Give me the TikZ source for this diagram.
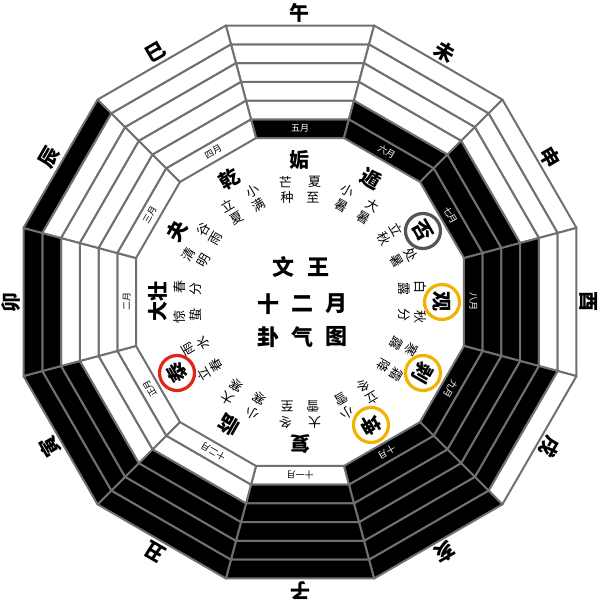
\documentclass[tikz,border=0pt]{standalone}
\usepackage{fontspec}
\newfontfamily\cjk{Noto Sans CJK SC}
\definecolor{lg}{HTML}{707070}
\definecolor{gold}{HTML}{F2B200}
\definecolor{redc}{HTML}{E3241B}
\definecolor{grayc}{HTML}{555555}
\tikzset{
  band/.style={draw=lg, line width=2pt, line join=round},
  branch/.style={font=\cjk\bfseries\fontsize{20}{20}\selectfont, inner sep=0pt},
  gua/.style={font=\cjk\bfseries\fontsize{20}{20}\selectfont, inner sep=0pt},
  term/.style={font=\cjk\fontsize{13}{13}\selectfont, inner sep=0pt},
  month/.style={font=\cjk\fontsize{9}{9}\selectfont, inner sep=0pt},
  title/.style={font=\cjk\bfseries\fontsize{22}{22}\selectfont, inner sep=0pt},
  ring/.style={line width=3.2pt}
}
\begin{document}
\begin{tikzpicture}[x=1pt,y=1pt]
\useasboundingbox (-300,-303) rectangle (300,302);
\fill[white] (-300,-303) rectangle (300,302);
% hexagram bands
\foreach \k in {0,...,11}{
  \pgfmathsetmacro\th{90-30*\k}
  \foreach \i in {0,...,5}{
    \pgfmathsetmacro\rin{(164+18.75*\i)/cos(15)}
    \pgfmathsetmacro\rout{(164+18.75*(\i+1))/cos(15)}
    \pgfmathtruncatemacro\blk{(\k<6)*(\i<\k+1)+(\k>5)*(\i>\k-6)}
    \ifnum\blk=1 \def\fc{black}\else\def\fc{white}\fi
    \filldraw[band, fill=\fc] (\th+15:\rin) -- (\th-15:\rin) -- (\th-15:\rout) -- (\th+15:\rout) -- cycle;
  }
}
% months
\foreach \k/\m in {0/五月,1/六月,2/七月,3/八月,4/九月,5/十月,6/十一月,7/十二月,8/正月,9/二月,10/三月,11/四月}{
  \pgfmathsetmacro\th{90-30*\k}
  \ifnum\k<6 \def\tc{white}\else\def\tc{black}\fi
  \node[month, text=\tc, rotate=\th-90] (m\k) at (\th:173.4) {\m};
}
% branches
\foreach \k/\b in {0/午,1/未,2/申,3/酉,4/戌,5/亥,6/子,7/丑,8/寅,9/卯,10/辰,11/巳}{
  \pgfmathsetmacro\th{90-30*\k}
  \node[branch, rotate=\th-90] (b\k) at (\th:289) {\b};
}
% hexagram names
\foreach \k/\n in {0/姤,1/遁,2/否,3/观,4/剥,5/坤,6/复,7/临,8/泰,9/大壮,10/夬,11/乾}{
  \pgfmathsetmacro\th{90-30*\k}
  \node[gua, rotate=\th-90] (g\k) at (\th:142) {\n};
}
% circles
\draw[ring, grayc] (g2.center) circle (17.5);
\draw[ring, gold] (g3.center) circle (17.5);
\draw[ring, gold] (g4.center) circle (17.5);
\draw[ring, gold] (g5.center) circle (17.5);
\draw[ring, redc] (g8.center) circle (17.5);
% solar terms
\foreach \k/\a/\b/\c/\d in {0/芒/种/夏/至,1/小/暑/大/暑,2/立/秋/处/暑,3/白/露/秋/分,4/寒/露/霜/降,5/立/冬/小/雪,6/大/雪/冬/至,7/小/寒/大/寒,8/立/春/雨/水,9/惊/蛰/春/分,10/清/明/谷/雨,11/立/夏/小/满}{
  \pgfmathsetmacro\th{90-30*\k}
  \node[term, rotate=\th-90] (ta\k) at (\th+7:121) {\a};
  \node[term, rotate=\th-90] (tb\k) at (\th+7:105) {\b};
  \node[term, rotate=\th-90] (tc\k) at (\th-7:121) {\c};
  \node[term, rotate=\th-90] (td\k) at (\th-7:105) {\d};
}
% centre title
\node[title] (c1) at (-16,35) {文};
\node[title] (c2) at (19,35) {王};
\node[title] (c3) at (-31,-2) {十};
\node[title] (c4) at (2,-2) {二};
\node[title] (c5) at (37,-2) {月};
\node[title] (c6) at (-31,-35) {卦};
\node[title] (c7) at (2,-35) {气};
\node[title] (c8) at (36,-35) {图};
\end{tikzpicture}
\end{document}
